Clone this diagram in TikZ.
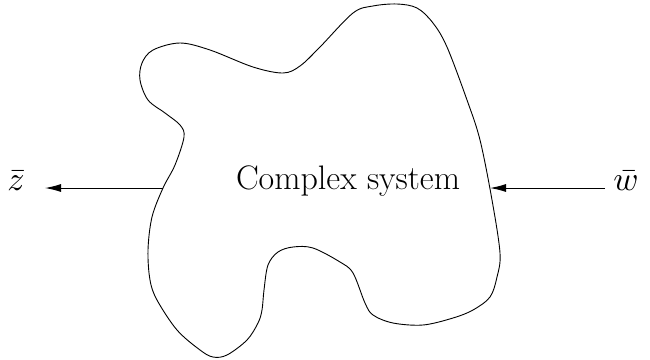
\documentclass[tikz,border=0pt]{standalone}
\usepackage{graphicx}
\usetikzlibrary{arrows.meta}
\begin{document}
\begin{tikzpicture}[x=1pt,y=-1pt,
  lbl/.style={inner sep=0pt,font=\fontsize{34}{40}\selectfont},
  conn/.style={line width=1pt,-{Latex[length=16pt,width=8pt]}},
  blob/.style={line width=0.9pt}]
\useasboundingbox (0,0) rectangle (650,359);
\draw[blob] plot[smooth cycle, tension=0.55] coordinates {
(142,63) (153,50) (180,43) (210,50) (253,67) (283,73) (300,66) (320,47)
(353,13) (373,6) (397,4) (417,8) (433,23) (447,47) (467,100) (480,140)
(492,200) (500,253) (497,277) (490,297) (473,310) (453,318) (423,325)
(393,323) (373,315) (365,303) (353,273) (340,262) (313,248) (293,247)
(278,252) (268,265) (264,290) (262,310) (258,323) (247,340) (227,355)
(213,357) (200,350) (177,330) (157,300) (150,280) (148,250) (152,217)
(163,188) (175,165) (184,137) (180,125) (165,113) (148,100) (140,80)};
\coordinate (zout) at (163,188);
\coordinate (zend) at (45,188);
\coordinate (wstart) at (605,188);
\coordinate (win) at (490,188);
\node[lbl] (sys) at (348,181) {Complex system};
\node[inner sep=0pt] (z) at (16,181) {\scalebox{3.4}{$\bar z$}};
\node[inner sep=0pt] (w) at (626,181) {\scalebox{3.4}{$\bar w$}};
\draw[conn] (zout) -- (zend);
\draw[conn] (wstart) -- (win);
\end{tikzpicture}
\end{document}
